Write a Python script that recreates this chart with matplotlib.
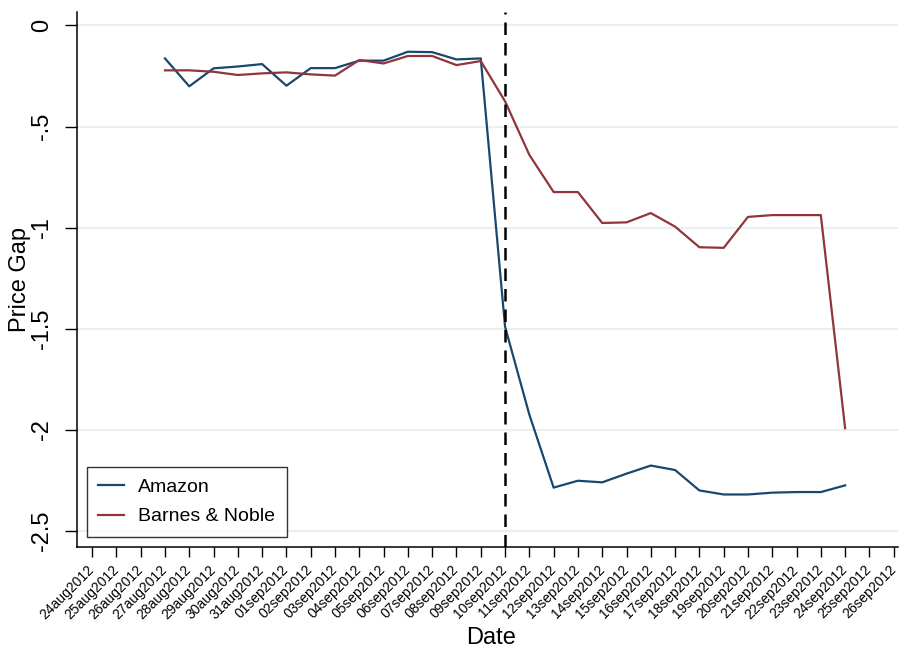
import matplotlib
matplotlib.use("Agg")
import matplotlib.pyplot as plt
import pandas as pd

plt.rcParams['font.family'] = ['Liberation Sans', 'DejaVu Sans']

# axis days shown on the x axis
all_days = pd.date_range("2012-08-24", "2012-09-26", freq="D")
tick_labels = [d.strftime("%d%b%Y").lower() for d in all_days]

# observed days for both series
obs_days = pd.date_range("2012-08-27", "2012-09-24", freq="D")

amazon = [-0.163, -0.301, -0.212, -0.203, -0.191, -0.298, -0.211, -0.211,
          -0.174, -0.174, -0.130, -0.132, -0.168, -0.163, -1.490, -1.925,
          -2.286, -2.252, -2.260, -2.217, -2.177, -2.199, -2.300, -2.320,
          -2.320, -2.311, -2.308, -2.308, -2.275]
barnes = [-0.222, -0.222, -0.229, -0.245, -0.237, -0.232, -0.242, -0.248,
          -0.171, -0.188, -0.151, -0.151, -0.196, -0.176, -0.375, -0.640,
          -0.824, -0.824, -0.977, -0.974, -0.928, -0.995, -1.097, -1.100,
          -0.947, -0.938, -0.938, -0.938, -1.992]

event_day = pd.Timestamp("2012-09-10")
yticks = [0, -0.5, -1, -1.5, -2, -2.5]
ytick_labels = ["0", "-.5", "-1", "-1.5", "-2", "-2.5"]

fig = plt.figure(figsize=(8.99, 6.51), dpi=100)
ax = fig.add_axes([0.0857, 0.160, 0.913, 0.822])

for y in yticks:
    ax.axhline(y, color="#e9f0f2", lw=1.5, zorder=0)

ax.plot(obs_days, amazon, color="#1a476f", lw=1.6, label="Amazon")
ax.plot(obs_days, barnes, color="#90353b", lw=1.6, label="Barnes & Noble")
ax.axvline(event_day, color="black", lw=1.8, dashes=(5, 3.2))

ax.set_xlim(all_days[0] - pd.Timedelta(days=0.62), all_days[-1] + pd.Timedelta(days=0.17))
ax.set_ylim(-2.579, 0.068)

ax.set_xticks(all_days)
ax.set_xticklabels(tick_labels, rotation=45, ha="right", va="center",
                   rotation_mode="anchor", fontsize=10)
ax.set_yticks(yticks)
ax.set_yticklabels(ytick_labels, rotation=90, va="center", fontsize=17)

ax.tick_params(axis="x", length=7, width=1, pad=8)
ax.tick_params(axis="y", length=9, width=1, pad=8)

for s in ["top", "right"]:
    ax.spines[s].set_visible(False)
for s in ["left", "bottom"]:
    ax.spines[s].set_linewidth(1.1)

ax.set_xlabel("Date", fontsize=17)
ax.set_ylabel("Price Gap", fontsize=17)
ax.xaxis.set_label_coords(0.504, -0.150)
ax.yaxis.set_label_coords(-0.056, 0.5)

leg = ax.legend(loc="lower left", bbox_to_anchor=(0.0, 0.0), fontsize=14,
                frameon=True, fancybox=False, edgecolor="black",
                handlelength=1.3, handletextpad=0.75, borderpad=0.6,
                labelspacing=0.62, borderaxespad=0.5)
leg.get_frame().set_linewidth(1.0)

fig.savefig("out.png", dpi=100)
